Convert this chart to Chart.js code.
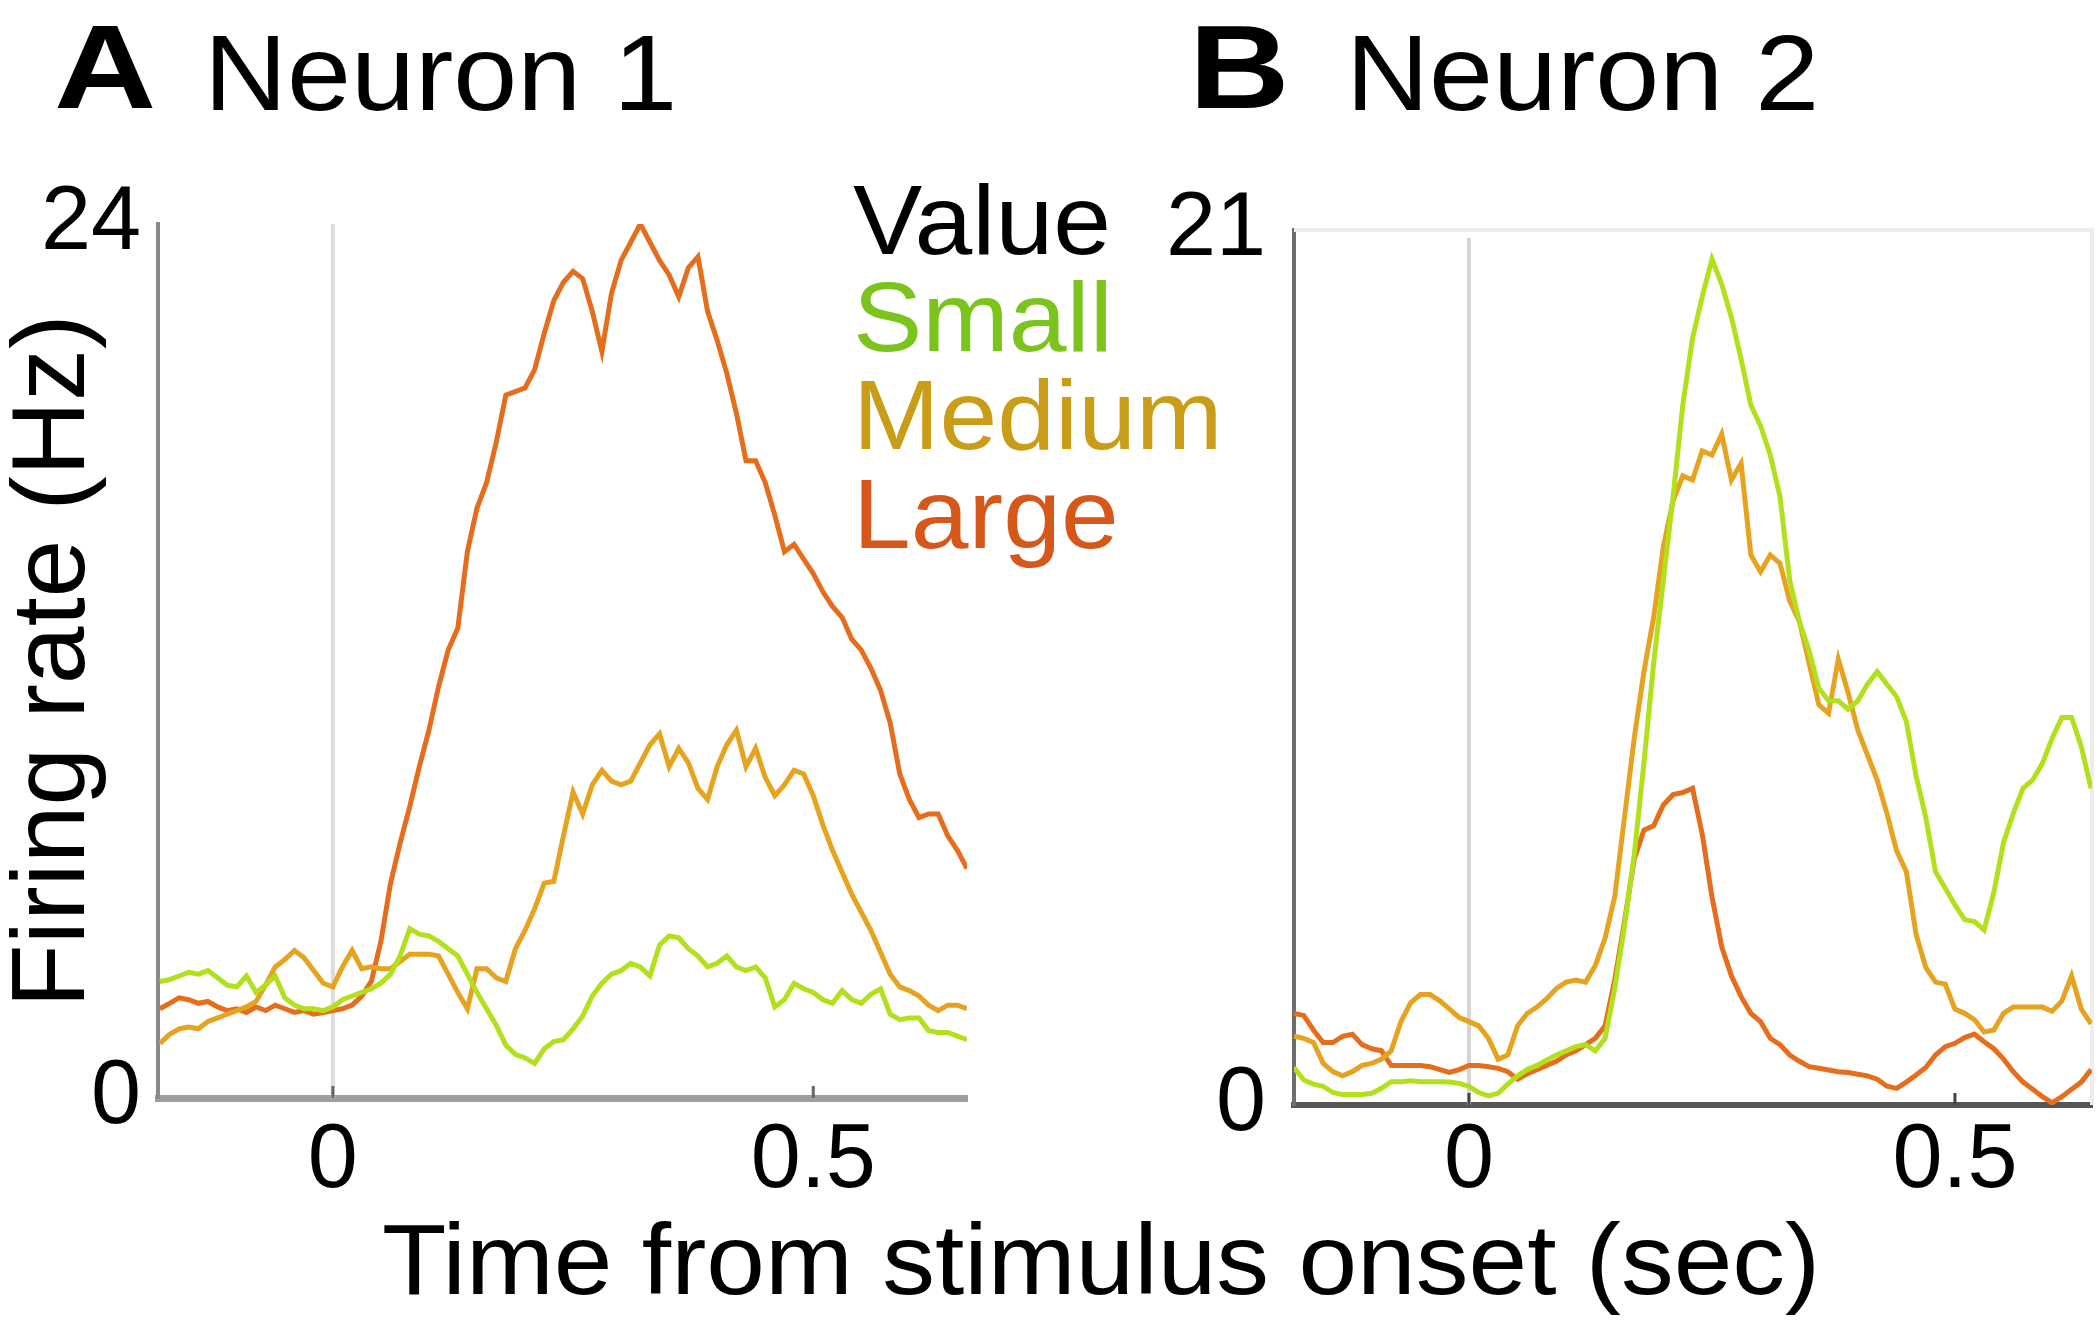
<!DOCTYPE html>
<html><head><meta charset="utf-8">
<script src="https://cdn.jsdelivr.net/npm/chart.js@4.4.1/dist/chart.umd.min.js"></script>
<style>
html,body{margin:0;padding:0;background:#fff;}
#wrap{position:relative;width:2100px;height:1323px;overflow:hidden;background:#fff;font-family:'Liberation Sans',Arial,Helvetica,sans-serif;}
canvas{position:absolute;top:0;}
.t{position:absolute;white-space:nowrap;line-height:1;transform-origin:0 0;color:#000;}
</style></head><body>
<div id="wrap">
<canvas id="cA" width="1000" height="1323" style="left:0px"></canvas>
<canvas id="cB" width="1100" height="1323" style="left:1000px"></canvas>
<div class="t" style="left:54px;top:8px;font-size:118px;font-weight:bold;transform:scaleX(1.2)">A</div>
<div class="t" style="left:204px;top:19px;font-size:108px;transform:scaleX(1.065)">Neuron 1</div>
<div class="t" style="left:1189px;top:8px;font-size:118px;font-weight:bold;transform:scaleX(1.18)">B</div>
<div class="t" style="left:1346px;top:19px;font-size:108px;transform:scaleX(1.065)">Neuron 2</div>
<div class="t" style="left:853px;top:171px;font-size:98px;transform:scaleX(1.06)">Value</div>
<div class="t" style="left:853px;top:268px;font-size:98px;transform:scaleX(1.06);color:#7bc41e">Small</div>
<div class="t" style="left:853px;top:366px;font-size:98px;transform:scaleX(1.06);color:#c99d17">Medium</div>
<div class="t" style="left:853px;top:465px;font-size:98px;transform:scaleX(1.06);color:#d6571a">Large</div>
<div class="t" style="left:382px;top:1209px;font-size:100px;transform:scaleX(1.055)">Time from stimulus onset (sec)</div>
</div>
<script>
// ---- data ----
const seriesNames = ['Small', 'Medium', 'Large'];
const lineColors = ['#b2e01c', '#e6a31f', '#e56d1b'];
const xTickValues = [0, 0.5];
const xTickLabels = ['0', '0.5'];
const yTicksA = [0, 24];
const yTicksB = [0, 21];

// time grids (sec), 10 ms bins
const timeA = Array.from({length: 85}, (_, i) => Math.round((-0.18 + i * 0.01) * 100) / 100);
const timeB = Array.from({length: 83}, (_, i) => Math.round((-0.18 + i * 0.01) * 100) / 100);

// Neuron 1 firing rates (Hz)
const smallA = [3.2,3.25,3.35,3.45,3.4,3.5,3.3,3.1,3.05,3.35,2.9,3.1,3.35,2.75,2.55,2.45,2.45,2.4,
  2.5,2.7,2.8,2.9,3.0,3.15,3.4,3.9,4.65,4.5,
  4.45,4.3,4.1,3.9,3.4,2.9,2.45,2.0,1.45,1.2,
  1.1,0.95,1.35,1.55,1.6,1.9,2.25,2.8,3.15,3.4,
  3.5,3.7,3.6,3.35,4.2,4.45,4.4,4.1,3.9,3.6,
  3.7,3.9,3.6,3.5,3.6,3.3,2.5,2.7,3.15,3.0,
  2.9,2.7,2.6,2.95,2.7,2.6,2.85,3.0,2.3,2.15,
  2.2,2.2,1.85,1.8,1.8,1.7,1.6];
const mediumA = [1.5,1.75,1.9,1.95,1.9,2.1,2.2,2.3,2.4,2.5,2.65,3.1,3.6,3.8,4.05,3.85,3.5,3.15,
  3.05,3.6,4.05,3.55,3.6,3.55,3.55,3.75,3.95,3.95,
  3.95,3.9,3.4,2.9,2.45,3.55,3.55,3.3,3.2,4.1,
  4.6,5.2,5.9,5.95,7.2,8.4,7.8,8.6,9.0,8.7,
  8.6,8.7,9.2,9.7,10.0,9.1,9.6,9.2,8.5,8.2,
  9.1,9.7,10.1,9.1,9.6,8.8,8.3,8.6,9.0,8.9,
  8.3,7.5,6.8,6.2,5.6,5.1,4.6,4.0,3.4,3.05,
  2.95,2.8,2.55,2.4,2.55,2.55,2.45];
const largeA = [2.45,2.6,2.75,2.7,2.6,2.65,2.5,2.4,2.45,2.35,2.5,2.4,2.55,2.45,2.35,2.4,2.3,2.35,
  2.4,2.45,2.55,2.8,3.2,4.3,5.9,7.0,8.0,9.1,
  10.1,11.3,12.3,12.9,15.0,16.2,16.9,18.0,19.3,19.4,
  19.5,20.0,21.0,21.9,22.4,22.7,22.5,21.6,20.5,22.1,
  23.0,23.5,24.0,23.5,23.0,22.6,22.0,22.8,23.1,21.6,
  20.8,19.9,18.8,17.5,17.5,16.9,16.0,15.0,15.2,14.8,
  14.4,13.9,13.5,13.2,12.6,12.3,11.8,11.2,10.3,8.9,
  8.2,7.7,7.8,7.8,7.2,6.8,6.3];

// Neuron 2 firing rates (Hz)
const smallB = [0.9,0.6,0.5,0.45,0.3,0.25,0.25,0.25,0.28,0.4,0.56,0.56,0.58,0.56,0.56,0.56,0.55,0.52,
  0.45,0.3,0.22,0.28,0.5,0.7,0.85,0.95,1.08,1.2,
  1.3,1.4,1.45,1.3,1.6,2.8,4.3,6.0,8.2,10.6,
  12.6,14.6,16.8,18.4,19.4,20.3,19.7,18.9,17.9,16.8,
  16.3,15.6,14.6,12.6,11.6,10.9,10.0,9.7,9.7,9.5,
  9.7,10.1,10.4,10.1,9.8,9.2,7.9,6.9,5.6,5.2,
  4.8,4.45,4.4,4.2,5.1,6.3,7.0,7.6,7.8,8.2,
  8.8,9.3,9.3,8.6,7.6];
const mediumB = [1.65,1.6,1.5,1.0,0.8,0.7,0.8,0.95,1.0,1.1,1.3,2.0,2.45,2.65,2.65,2.5,2.3,2.1,
  2.0,1.9,1.6,1.1,1.2,1.9,2.2,2.35,2.55,2.8,
  2.95,3.0,2.95,3.35,4.0,5.0,6.9,8.8,10.4,11.7,
  13.4,14.5,15.1,15.0,15.7,15.6,16.1,15.0,15.4,13.2,
  12.8,13.2,13.0,12.1,11.6,10.6,9.6,9.4,10.7,9.9,
  9.0,8.4,7.8,7.0,6.1,5.6,4.1,3.3,2.95,2.9,
  2.3,2.2,2.05,1.75,1.8,2.2,2.35,2.35,2.35,2.35,
  2.25,2.5,3.1,2.3,1.95];
const largeB = [2.2,2.15,1.8,1.5,1.5,1.65,1.7,1.45,1.35,1.3,0.95,0.95,0.95,0.95,0.92,0.85,0.78,0.85,
  0.95,0.95,0.92,0.88,0.8,0.62,0.75,0.85,0.95,1.05,
  1.2,1.3,1.45,1.6,1.9,3.0,4.4,5.9,6.6,6.7,
  7.2,7.45,7.5,7.6,6.5,5.0,3.8,3.1,2.6,2.2,
  2.0,1.6,1.45,1.2,1.05,0.92,0.88,0.84,0.8,0.78,
  0.74,0.7,0.62,0.45,0.4,0.55,0.72,0.9,1.2,1.4,
  1.48,1.62,1.7,1.52,1.35,1.1,0.8,0.55,0.38,0.2,
  0.05,0.2,0.38,0.55,0.85];

// ---- chart ----
const FONT = "'Liberation Sans', Arial, Helvetica, sans-serif";
Chart.defaults.font.family = FONT;
Chart.defaults.color = '#000';

const decor = {
  id: 'decor',
  beforeDatasetsDraw(chart, args, o) {
    const {ctx, chartArea: ca, scales: {x}} = chart;
    ctx.save();
    if (o.frame) {
      ctx.strokeStyle = o.frame; ctx.lineWidth = 4;
      ctx.beginPath(); ctx.moveTo(ca.left, ca.top); ctx.lineTo(ca.right, ca.top); ctx.lineTo(ca.right, ca.bottom); ctx.stroke();
    }
    const x0 = x.getPixelForValue(0);
    ctx.strokeStyle = o.zeroColor; ctx.lineWidth = o.zeroWidth;
    ctx.beginPath(); ctx.moveTo(x0, ca.top + o.zeroInset); ctx.lineTo(x0, ca.bottom); ctx.stroke();
    ctx.restore();
  },
  afterDatasetsDraw(chart, args, o) {
    const {ctx, chartArea: ca, scales: {x}} = chart;
    ctx.save(); ctx.strokeStyle = o.tickColor; ctx.lineWidth = 3;
    x.ticks.forEach(tk => {
      const px = x.getPixelForValue(tk.value);
      ctx.beginPath(); ctx.moveTo(px, ca.bottom); ctx.lineTo(px, ca.bottom - 12); ctx.stroke();
    });
    ctx.restore();
  }
};

function makeDatasets(time, arrays) {
  return arrays.map((vals, k) => ({
    label: seriesNames[k],
    data: time.map((t, i) => ({x: t, y: vals[i]})),
    borderColor: lineColors[k],
    borderWidth: 5,
    pointRadius: 0,
    tension: 0,
    fill: false
  }));
}

function makeChart(id, time, arrays, cfg) {
  return new Chart(document.getElementById(id), {
    type: 'line',
    data: {datasets: makeDatasets(time, arrays)},
    plugins: [decor],
    options: {
      responsive: false, animation: false, devicePixelRatio: 1,
      layout: {padding: {left: 0, top: cfg.top, right: cfg.right, bottom: 0}},
      plugins: {legend: {display: false}, tooltip: {enabled: false},
        decor: {frame: cfg.frame, zeroColor: cfg.zeroColor, zeroWidth: 4, zeroInset: cfg.zeroInset, tickColor: cfg.tickColor}},
      scales: {
        x: {
          type: 'linear', min: cfg.xmin, max: cfg.xmax,
          afterBuildTicks: s => { s.ticks = xTickValues.map(v => ({value: v})); },
          afterFit: s => { s.height = cfg.xh; },
          ticks: {font: {size: 90, lineHeight: 1}, color: '#000', padding: cfg.xpad, maxRotation: 0, autoSkip: false,
            callback: v => xTickLabels[xTickValues.indexOf(v)]},
          grid: {display: true, drawOnChartArea: false, drawTicks: false},
          border: {display: true, color: cfg.xAxisColor, width: cfg.xAxisWidth}
        },
        y: {
          min: 0, max: cfg.ymax,
          afterBuildTicks: s => { s.ticks = cfg.yTicks.map(v => ({value: v})); },
          afterFit: s => { s.width = cfg.yw; },
          ticks: {font: {size: 90, lineHeight: 1}, color: '#000', padding: cfg.ypad, autoSkip: false,
            callback: v => String(v)},
          title: {display: !!cfg.ytitle, text: cfg.ytitle || '', color: '#000',
            font: {size: 104, lineHeight: 1}, padding: {top: 3, bottom: 0}},
          grid: {display: true, drawOnChartArea: false, drawTicks: false},
          border: {display: true, color: cfg.yAxisColor, width: 4}
        }
      }
    }
  });
}

makeChart('cA', timeA, [smallA, mediumA, largeA], {
  top: 224, right: 33, xh: 225, yw: 158, xmin: -0.182, xmax: 0.66, ymax: 24, yTicks: yTicksA,
  xpad: 19, ypad: 17, ytitle: 'Firing rate (Hz)', frame: null, zeroColor: '#dcdcdc', zeroInset: 0,
  tickColor: '#666', xAxisColor: '#9e9e9e', xAxisWidth: 7, yAxisColor: '#8a8a8a'
});
makeChart('cB', timeB, [smallB, mediumB, largeB], {
  top: 230, right: 8, xh: 218, yw: 294, xmin: -0.18, xmax: 0.641, ymax: 21, yTicks: yTicksB,
  xpad: 12, ypad: 28, ytitle: null, frame: '#ededed', zeroColor: '#d4d4d4', zeroInset: 8,
  tickColor: '#444', xAxisColor: '#555555', xAxisWidth: 6, yAxisColor: '#6e6e6e'
});
</script>
</body></html>
